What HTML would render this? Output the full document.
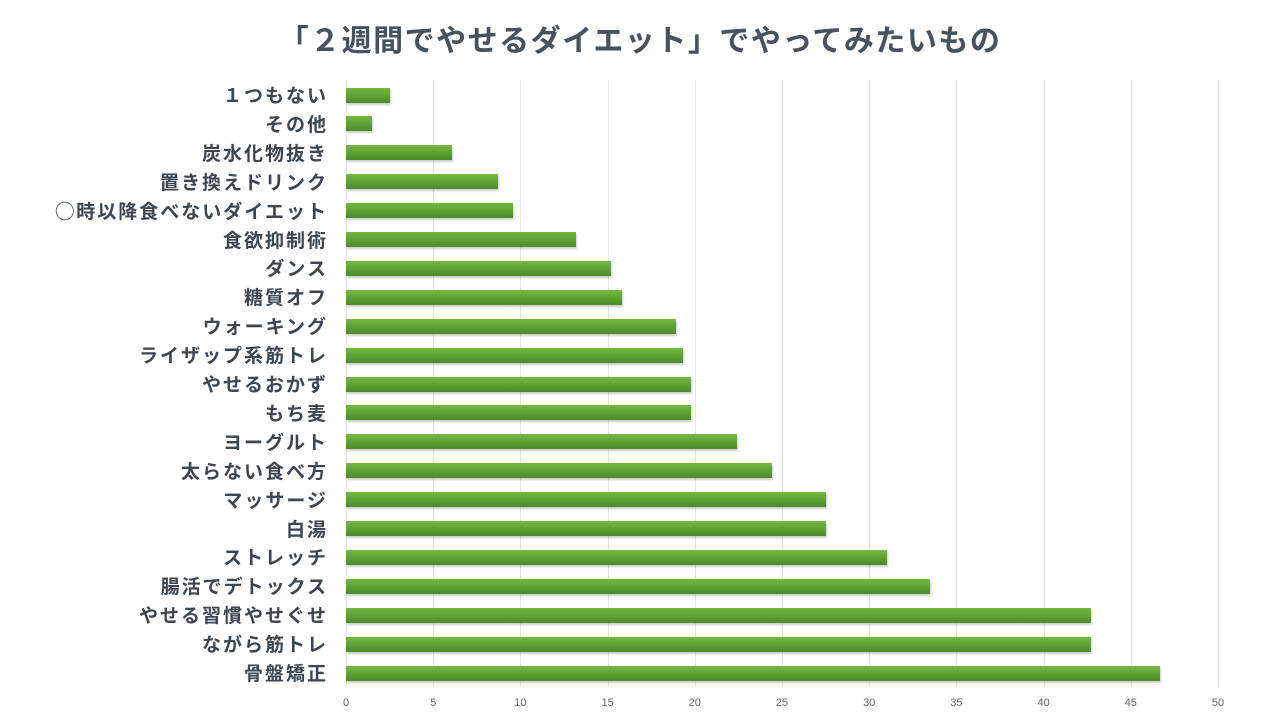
<!DOCTYPE html>
<html><head><meta charset="utf-8"><style>
body{margin:0;width:1280px;height:720px;background:#fff;overflow:hidden;font-family:"Liberation Sans","Noto Sans CJK JP",sans-serif}
.t{position:absolute;left:0;width:1280px;top:16px;text-align:center;font-size:30px;font-weight:bold;color:#46525e;letter-spacing:1.5px}
.l{position:absolute;right:952px;font-size:19px;font-weight:bold;color:#3c4650;white-space:nowrap;line-height:20px;letter-spacing:2px}
.b{position:absolute;left:346px;height:15px;background:linear-gradient(#73b843,#5fa233 50%,#4a8a2a);box-shadow:1px 2px 2px rgba(0,0,0,.2)}
.g{position:absolute;top:80px;height:606px;width:1px;background:#e2e4e8}
.k{position:absolute;top:697px;font-size:11px;color:#666;width:40px;margin-left:-20px;text-align:center}
</style></head><body>
<div class="t">「２週間でやせるダイエット」でやってみたいもの</div>
<div id="c"></div>
<script>
var d=[["１つもない",2.5],["その他",1.5],["炭水化物抜き",6.1],["置き換えドリンク",8.7],["◯時以降食べないダイエット",9.6],["食欲抑制術",13.2],["ダンス",15.2],["糖質オフ",15.8],["ウォーキング",18.9],["ライザップ系筋トレ",19.3],["やせるおかず",19.8],["もち麦",19.8],["ヨーグルト",22.4],["太らない食べ方",24.4],["マッサージ",27.5],["白湯",27.5],["ストレッチ",31],["腸活でデトックス",33.5],["やせる習慣やせぐせ",42.7],["ながら筋トレ",42.7],["骨盤矯正",46.7]];
var h="",u=17.44;
for(var i=0;i<=10;i++){var x=346+i*5*u;h+='<div class="g" style="left:'+x+'px"></div><div class="k" style="left:'+x+'px">'+(i*5)+'</div>';}
d.forEach(function(r,i){var c=95+i*28.9;h+='<div class="l" style="top:'+(c-8)+'px">'+r[0]+'</div><div class="b" style="top:'+(c-7.5)+'px;width:'+(r[1]*u)+'px"></div>';});
document.getElementById("c").innerHTML=h;
</script>
</body></html>
